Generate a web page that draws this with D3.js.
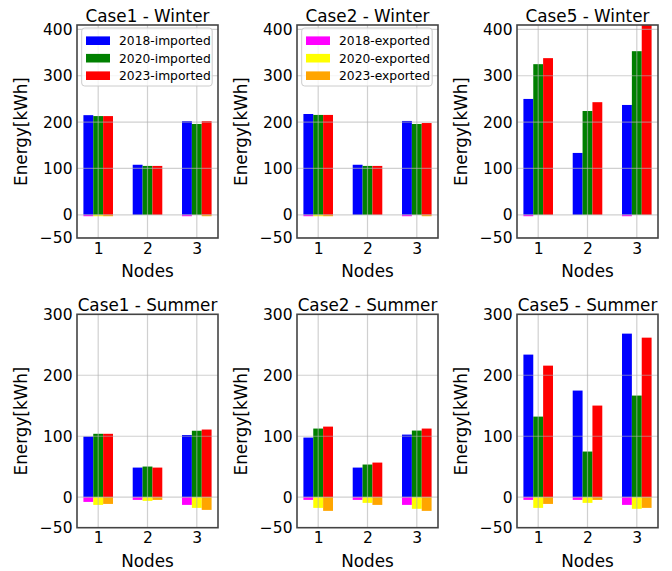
<!DOCTYPE html>
<html lang="en">
<head>
<meta charset="UTF-8">
<title>Energy by node</title>
<script src="https://d3js.org/d3.v7.min.js"></script>
<style>
  body { margin: 0; background: #fff; }
  text { font-family: "DejaVu Sans", sans-serif; }
</style>
</head>
<body>
<svg id="chart" width="672" height="571"></svg>
<script>
// nodes on x axis
var nodes = [1, 2, 3];
var offsets = [-0.2, 0, 0.2];
var importLabels = ["2018-imported", "2020-imported", "2023-imported"];
var exportLabels = ["2018-exported", "2020-exported", "2023-exported"];
var importColors = ["blue", "green", "red"];
var exportColors = ["magenta", "yellow", "orange"];
var winterTicks = [400, 300, 200, 100, 0, -50];
var summerTicks = [300, 200, 100, 0, -50];

// values per year (2018, 2020, 2023), each one per node
var case1WinterImp = [[215, 108, 202], [213, 105.5, 196], [213, 105.5, 202]];
var case1WinterExp = [[-3, 0, -3], [-3, 0, 0], [-3, 0, -3]];
var case2WinterImp = [[217.5, 108, 202.5], [215.5, 105.5, 196], [215.5, 105.5, 198]];
var case2WinterExp = [[-3, 0, -3], [-3, 0, 0], [-3, 0, -3]];
var case5WinterImp = [[250, 133.5, 237], [325, 224, 353], [338, 243, 418]];
var case5WinterExp = [[-3, 0, -3], [0, 0, 0], [0, 0, 0]];
var case1SummerImp = [[99.5, 48.6, 102], [104, 50.3, 109], [104, 48.6, 111]];
var case1SummerExp = [[-7.7, -4.4, -12.6], [-12.6, -6, -17.5], [-11, -4.4, -20.8]];
var case2SummerImp = [[97.8, 48.6, 102.7], [112.6, 53.6, 109.3], [115.8, 56.8, 112.6]];
var case2SummerExp = [[-4.4, -4.4, -12.6], [-17.5, -9.3, -19], [-22.4, -12.6, -22.4]];
var case5SummerImp = [[233.9, 174.9, 268.3], [132.2, 74.9, 166.7], [215.8, 150.3, 261.7]];
var case5SummerExp = [[-4.4, -4.4, -12.6], [-17.5, -9.3, -19], [-11, -4.4, -17.5]];

var panels = [
  {title: "Case1 - Winter", imp: case1WinterImp, exp: case1WinterExp, row: 0, col: 0, legend: "imp"},
  {title: "Case2 - Winter", imp: case2WinterImp, exp: case2WinterExp, row: 0, col: 1, legend: "exp"},
  {title: "Case5 - Winter", imp: case5WinterImp, exp: case5WinterExp, row: 0, col: 2},
  {title: "Case1 - Summer", imp: case1SummerImp, exp: case1SummerExp, row: 1, col: 0},
  {title: "Case2 - Summer", imp: case2SummerImp, exp: case2SummerExp, row: 1, col: 1},
  {title: "Case5 - Summer", imp: case5SummerImp, exp: case5SummerExp, row: 1, col: 2}
];

var svg = d3.select("#chart");
var W = 141;
var rows = [
  {top: 25, bottom: 238, dom: [-50, 409.5], ticks: winterTicks},
  {top: 314.3, bottom: 527.7, dom: [-50, 300], ticks: summerTicks}
];
var fmt = function(d) { return d < 0 ? "\u2212" + Math.abs(d) : d; };

panels.forEach(function(p, pi) {
  var r = rows[p.row];
  var left = 77 + p.col * 220;
  var x = d3.scaleLinear().domain([0.57, 3.43]).range([left, left + W]);
  var y = d3.scaleLinear().domain(r.dom).range([r.bottom, r.top]);
  var g = svg.append("g");

  g.append("clipPath").attr("id", "clip" + pi)
    .append("rect").attr("x", left).attr("y", r.top).attr("width", W).attr("height", r.bottom - r.top);
  var plot = g.append("g").attr("clip-path", "url(#clip" + pi + ")");

  function drawBars(vals, colors) {
    vals.forEach(function(yearVals, k) {
      plot.selectAll(null).data(yearVals).enter().append("rect")
        .attr("x", function(d, i) { return x(nodes[i] + offsets[k] - 0.1); })
        .attr("width", x(1.1) - x(0.9))
        .attr("y", function(d) { return y(Math.max(d, 0)); })
        .attr("height", function(d) { return Math.abs(y(d) - y(0)); })
        .attr("fill", colors[k]);
    });
  }
  drawBars(p.imp, importColors);
  drawBars(p.exp, exportColors);

  // grid on top of bars
  plot.selectAll(null).data(r.ticks).enter().append("line")
    .attr("x1", left).attr("x2", left + W)
    .attr("y1", function(d) { return y(d); }).attr("y2", function(d) { return y(d); })
    .attr("stroke", "#b0b0b0").attr("stroke-opacity", 0.6).attr("stroke-width", 1.2);
  plot.selectAll(null).data(nodes).enter().append("line")
    .attr("y1", r.top).attr("y2", r.bottom)
    .attr("x1", function(d) { return x(d); }).attr("x2", function(d) { return x(d); })
    .attr("stroke", "#b0b0b0").attr("stroke-opacity", 0.6).attr("stroke-width", 1.2);

  g.append("rect").attr("x", left).attr("y", r.top).attr("width", W).attr("height", r.bottom - r.top)
    .attr("fill", "none").attr("stroke", "#444").attr("stroke-width", 1.6);

  var ya = g.append("g").attr("transform", "translate(" + left + ",0)")
    .call(d3.axisLeft(y).tickValues(r.ticks).tickFormat(fmt).tickSize(0).tickPadding(4.5));
  ya.select(".domain").remove();
  ya.selectAll("text").attr("font-size", 15.5).attr("font-family", "DejaVu Sans").attr("fill", "#000");

  var xa = g.append("g").attr("transform", "translate(0," + r.bottom + ")")
    .call(d3.axisBottom(x).tickValues(nodes).tickFormat(d3.format("d")).tickSize(0).tickPadding(4.5));
  xa.select(".domain").remove();
  xa.selectAll("text").attr("font-size", 15.5).attr("font-family", "DejaVu Sans").attr("fill", "#000");

  g.append("text").attr("x", left + W / 2).attr("y", r.top - 3.5)
    .attr("text-anchor", "middle").attr("font-size", 16.8).text(p.title);
  g.append("text").attr("x", left + W / 2).attr("y", r.bottom + 39)
    .attr("text-anchor", "middle").attr("font-size", 16.8).text("Nodes");
  g.append("text")
    .attr("transform", "translate(" + (left - 50) + "," + ((r.top + r.bottom) / 2) + ") rotate(-90)")
    .attr("text-anchor", "middle").attr("font-size", 16.8).text("Energy[kWh]");

  if (p.legend) {
    var labels = p.legend === "imp" ? importLabels : exportLabels;
    var colors = p.legend === "imp" ? importColors : exportColors;
    var lg = g.append("g").attr("transform", "translate(" + (left + 4.7) + "," + (r.top + 3) + ")");
    lg.append("rect").attr("width", 130.5).attr("height", 58).attr("rx", 3)
      .attr("fill", "#fff").attr("fill-opacity", 0.8).attr("stroke", "#ccc").attr("stroke-width", 1);
    labels.forEach(function(lab, k) {
      var cy = 12.7 + k * 17.5;
      lg.append("rect").attr("x", 4.3).attr("y", cy - 4.3).attr("width", 24).attr("height", 8.6).attr("fill", colors[k]);
      lg.append("text").attr("x", 37.3).attr("y", cy + 4.3).attr("font-size", 12.3).text(lab);
    });
  }
});
</script>
</body>
</html>
